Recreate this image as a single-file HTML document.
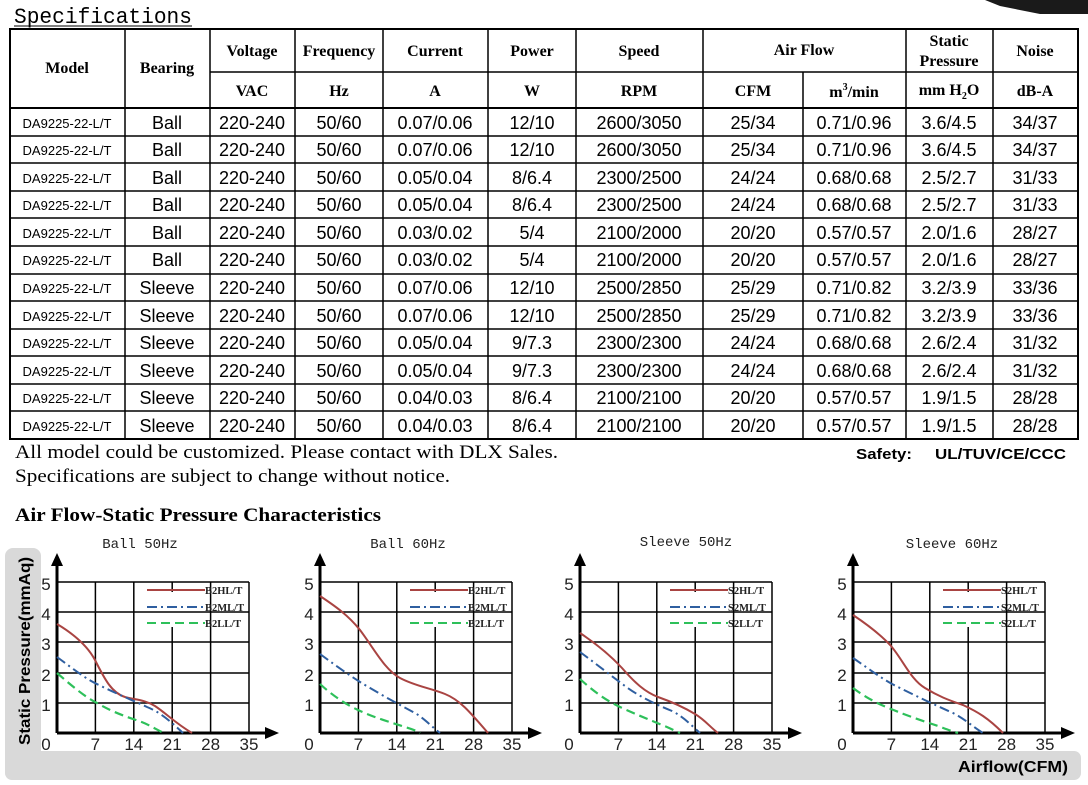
<!DOCTYPE html>
<html><head><meta charset="utf-8"><style>
html,body{margin:0;padding:0;background:#fff;width:1088px;height:785px;overflow:hidden}
svg{display:block}
.h{font-family:"Liberation Serif",serif;font-weight:bold;font-size:16px;text-anchor:middle;fill:#000}
.d{font-family:"Liberation Sans",sans-serif;font-size:18px;text-anchor:middle;fill:#000}
.m{font-family:"Liberation Sans",sans-serif;font-size:13px;text-anchor:middle;fill:#000}
.t{font-family:"Liberation Sans",sans-serif;font-size:17px;fill:#222}
.lg{font-family:"Liberation Serif",serif;font-weight:bold;font-size:10.5px;fill:#222}
.ct{font-family:"Liberation Mono",monospace;font-size:14px;fill:#222;text-anchor:middle}
</style></head><body>
<svg width="1088" height="785" viewBox="0 0 1088 785" xmlns="http://www.w3.org/2000/svg">
<!-- fan corner -->
<path d="M985 0 L1088 0 L1088 14 L1040 14 L1000 6 Z" fill="#1a1a1a"/>
<text x="14" y="23" font-family="Liberation Mono,monospace" font-size="22" textLength="178" lengthAdjust="spacingAndGlyphs">Specifications</text>
<line x1="14" y1="26" x2="192" y2="26" stroke="#000" stroke-width="1"/>
<!-- table -->
<g stroke="#000" stroke-width="1.5" fill="none">
<rect x="10" y="29" width="1068" height="410" stroke-width="2"/>
<line x1="210" y1="72" x2="1078" y2="72"/>
<line x1="703" y1="29" x2="703" y2="439"/>
<line x1="10" y1="108" x2="1078" y2="108" stroke-width="2"/>
<line x1="125" y1="29" x2="125" y2="439"/><line x1="210" y1="29" x2="210" y2="439"/><line x1="295" y1="29" x2="295" y2="439"/><line x1="383" y1="29" x2="383" y2="439"/><line x1="488" y1="29" x2="488" y2="439"/><line x1="576" y1="29" x2="576" y2="439"/><line x1="803" y1="72" x2="803" y2="439"/><line x1="906" y1="29" x2="906" y2="439"/><line x1="993" y1="29" x2="993" y2="439"/>
<line x1="10" y1="136" x2="1078" y2="136"/><line x1="10" y1="163" x2="1078" y2="163"/><line x1="10" y1="191" x2="1078" y2="191"/><line x1="10" y1="218" x2="1078" y2="218"/><line x1="10" y1="246" x2="1078" y2="246"/><line x1="10" y1="274" x2="1078" y2="274"/><line x1="10" y1="301" x2="1078" y2="301"/><line x1="10" y1="329" x2="1078" y2="329"/><line x1="10" y1="356" x2="1078" y2="356"/><line x1="10" y1="384" x2="1078" y2="384"/><line x1="10" y1="411" x2="1078" y2="411"/>
</g>
<text class="h" x="67" y="73">Model</text><text class="h" x="167" y="73">Bearing</text>
<text class="h" x="252" y="56">Voltage</text><text class="h" x="339" y="56">Frequency</text><text class="h" x="435" y="56">Current</text><text class="h" x="532" y="56">Power</text><text class="h" x="639" y="56">Speed</text><text class="h" x="804" y="55">Air Flow</text><text class="h" x="949" y="46">Static</text><text class="h" x="949" y="66">Pressure</text><text class="h" x="1035" y="56">Noise</text>
<text class="h" x="252" y="96">VAC</text><text class="h" x="339" y="96">Hz</text><text class="h" x="435" y="96">A</text><text class="h" x="532" y="96">W</text><text class="h" x="639" y="96">RPM</text><text class="h" x="753" y="96">CFM</text><text class="h" x="854" y="97">m<tspan font-size="10" dy="-7">3</tspan><tspan dy="7">/min</tspan></text><text class="h" x="949" y="95">mm H<tspan font-size="10" dy="4">2</tspan><tspan dy="-4">O</tspan></text><text class="h" x="1035" y="96">dB-A</text>
<!-- rows -->
<g class="m"><text x="67" y="128">DA9225-22-L/T</text><text x="67" y="155">DA9225-22-L/T</text><text x="67" y="183">DA9225-22-L/T</text><text x="67" y="210">DA9225-22-L/T</text><text x="67" y="238">DA9225-22-L/T</text><text x="67" y="265">DA9225-22-L/T</text><text x="67" y="293">DA9225-22-L/T</text><text x="67" y="321">DA9225-22-L/T</text><text x="67" y="348">DA9225-22-L/T</text><text x="67" y="376">DA9225-22-L/T</text><text x="67" y="403">DA9225-22-L/T</text><text x="67" y="431">DA9225-22-L/T</text></g>
<g class="d">
<text x="167" y="129">Ball</text><text x="252" y="129">220-240</text><text x="339" y="129">50/60</text><text x="435" y="129">0.07/0.06</text><text x="532" y="129">12/10</text><text x="639" y="129">2600/3050</text><text x="753" y="129">25/34</text><text x="854" y="129">0.71/0.96</text><text x="949" y="129">3.6/4.5</text><text x="1035" y="129">34/37</text>
<text x="167" y="156">Ball</text><text x="252" y="156">220-240</text><text x="339" y="156">50/60</text><text x="435" y="156">0.07/0.06</text><text x="532" y="156">12/10</text><text x="639" y="156">2600/3050</text><text x="753" y="156">25/34</text><text x="854" y="156">0.71/0.96</text><text x="949" y="156">3.6/4.5</text><text x="1035" y="156">34/37</text>
<text x="167" y="184">Ball</text><text x="252" y="184">220-240</text><text x="339" y="184">50/60</text><text x="435" y="184">0.05/0.04</text><text x="532" y="184">8/6.4</text><text x="639" y="184">2300/2500</text><text x="753" y="184">24/24</text><text x="854" y="184">0.68/0.68</text><text x="949" y="184">2.5/2.7</text><text x="1035" y="184">31/33</text>
<text x="167" y="211">Ball</text><text x="252" y="211">220-240</text><text x="339" y="211">50/60</text><text x="435" y="211">0.05/0.04</text><text x="532" y="211">8/6.4</text><text x="639" y="211">2300/2500</text><text x="753" y="211">24/24</text><text x="854" y="211">0.68/0.68</text><text x="949" y="211">2.5/2.7</text><text x="1035" y="211">31/33</text>
<text x="167" y="239">Ball</text><text x="252" y="239">220-240</text><text x="339" y="239">50/60</text><text x="435" y="239">0.03/0.02</text><text x="532" y="239">5/4</text><text x="639" y="239">2100/2000</text><text x="753" y="239">20/20</text><text x="854" y="239">0.57/0.57</text><text x="949" y="239">2.0/1.6</text><text x="1035" y="239">28/27</text>
<text x="167" y="266">Ball</text><text x="252" y="266">220-240</text><text x="339" y="266">50/60</text><text x="435" y="266">0.03/0.02</text><text x="532" y="266">5/4</text><text x="639" y="266">2100/2000</text><text x="753" y="266">20/20</text><text x="854" y="266">0.57/0.57</text><text x="949" y="266">2.0/1.6</text><text x="1035" y="266">28/27</text>
<text x="167" y="294">Sleeve</text><text x="252" y="294">220-240</text><text x="339" y="294">50/60</text><text x="435" y="294">0.07/0.06</text><text x="532" y="294">12/10</text><text x="639" y="294">2500/2850</text><text x="753" y="294">25/29</text><text x="854" y="294">0.71/0.82</text><text x="949" y="294">3.2/3.9</text><text x="1035" y="294">33/36</text>
<text x="167" y="322">Sleeve</text><text x="252" y="322">220-240</text><text x="339" y="322">50/60</text><text x="435" y="322">0.07/0.06</text><text x="532" y="322">12/10</text><text x="639" y="322">2500/2850</text><text x="753" y="322">25/29</text><text x="854" y="322">0.71/0.82</text><text x="949" y="322">3.2/3.9</text><text x="1035" y="322">33/36</text>
<text x="167" y="349">Sleeve</text><text x="252" y="349">220-240</text><text x="339" y="349">50/60</text><text x="435" y="349">0.05/0.04</text><text x="532" y="349">9/7.3</text><text x="639" y="349">2300/2300</text><text x="753" y="349">24/24</text><text x="854" y="349">0.68/0.68</text><text x="949" y="349">2.6/2.4</text><text x="1035" y="349">31/32</text>
<text x="167" y="377">Sleeve</text><text x="252" y="377">220-240</text><text x="339" y="377">50/60</text><text x="435" y="377">0.05/0.04</text><text x="532" y="377">9/7.3</text><text x="639" y="377">2300/2300</text><text x="753" y="377">24/24</text><text x="854" y="377">0.68/0.68</text><text x="949" y="377">2.6/2.4</text><text x="1035" y="377">31/32</text>
<text x="167" y="404">Sleeve</text><text x="252" y="404">220-240</text><text x="339" y="404">50/60</text><text x="435" y="404">0.04/0.03</text><text x="532" y="404">8/6.4</text><text x="639" y="404">2100/2100</text><text x="753" y="404">20/20</text><text x="854" y="404">0.57/0.57</text><text x="949" y="404">1.9/1.5</text><text x="1035" y="404">28/28</text>
<text x="167" y="432">Sleeve</text><text x="252" y="432">220-240</text><text x="339" y="432">50/60</text><text x="435" y="432">0.04/0.03</text><text x="532" y="432">8/6.4</text><text x="639" y="432">2100/2100</text><text x="753" y="432">20/20</text><text x="854" y="432">0.57/0.57</text><text x="949" y="432">1.9/1.5</text><text x="1035" y="432">28/28</text>
</g>
<text x="15" y="458" font-family="Liberation Serif,serif" font-size="19" textLength="543" lengthAdjust="spacingAndGlyphs">All model could be customized. Please contact with DLX Sales.</text>
<text x="15" y="482" font-family="Liberation Serif,serif" font-size="19" textLength="435" lengthAdjust="spacingAndGlyphs">Specifications are subject to change without notice.</text>
<text x="856" y="459" font-family="Liberation Sans,sans-serif" font-weight="bold" font-size="15" textLength="56" lengthAdjust="spacingAndGlyphs">Safety:</text>
<text x="935" y="459" font-family="Liberation Sans,sans-serif" font-weight="bold" font-size="15" textLength="131" lengthAdjust="spacingAndGlyphs">UL/TUV/CE/CCC</text>
<text x="15" y="521" font-family="Liberation Serif,serif" font-weight="bold" font-size="19" textLength="366" lengthAdjust="spacingAndGlyphs">Air Flow-Static Pressure Characteristics</text>
<!-- gray frame -->
<rect x="5" y="548" width="36" height="232" rx="8" fill="#d9d9d9"/>
<rect x="5" y="751" width="1076" height="29" rx="7" fill="#d9d9d9"/>
<text transform="translate(30,745) rotate(-90)" font-family="Liberation Sans,sans-serif" font-weight="bold" font-size="16" textLength="188" lengthAdjust="spacingAndGlyphs">Static Pressure(mmAq)</text>
<text x="958" y="772" font-family="Liberation Sans,sans-serif" font-weight="bold" font-size="16" textLength="110" lengthAdjust="spacingAndGlyphs">Airflow(CFM)</text>

<defs>
<g id="grid">
<g stroke="#000" stroke-width="1.5">
<line x1="0" y1="582" x2="192" y2="582"/><line x1="0" y1="612" x2="192" y2="612"/><line x1="0" y1="642" x2="192" y2="642"/><line x1="0" y1="673" x2="192" y2="673"/><line x1="0" y1="703" x2="192" y2="703"/>
<line x1="38.4" y1="582" x2="38.4" y2="733"/><line x1="76.8" y1="582" x2="76.8" y2="733"/><line x1="115.2" y1="627" x2="115.2" y2="733"/><line x1="153.6" y1="582" x2="153.6" y2="733"/><line x1="192" y1="582" x2="192" y2="733"/>
<line x1="115.2" y1="582" x2="115.2" y2="592"/>
</g>
<g stroke="#000" stroke-width="3"><line x1="0" y1="733" x2="0" y2="562"/><line x1="0" y1="733" x2="212" y2="733"/></g>
<path d="M0 553 L-6 566 L6 566Z M222 733 L208 727 L208 739Z" fill="#000"/>
<g class="t" text-anchor="middle"><text x="-11" y="590">5</text><text x="-11" y="620">4</text><text x="-11" y="650">3</text><text x="-11" y="681">2</text><text x="-11" y="711">1</text><text x="-11" y="750">0</text>
<text x="38.4" y="750">7</text><text x="76.8" y="750">14</text><text x="115.2" y="750">21</text><text x="153.6" y="750">28</text><text x="192" y="750">35</text></g>
<g stroke-width="2" fill="none"><line x1="90" y1="590" x2="148" y2="590" stroke="#a94442"/><line x1="90" y1="607" x2="148" y2="607" stroke="#2f5fa0" stroke-dasharray="10,4,2,4"/><line x1="90" y1="623" x2="148" y2="623" stroke="#2ec05a" stroke-dasharray="9,5"/></g>
</g>
</defs>

<!-- chart 1 -->
<text class="ct" x="140" y="548">Ball 50Hz</text>
<g transform="translate(57,0)"><use href="#grid"/>
<text class="lg" x="148" y="594">B2HL/T</text><text class="lg" x="148" y="611">B2ML/T</text><text class="lg" x="148" y="627">B2LL/T</text>
<path d="M0 624 C15 633 30 645 38 660 C48 680 55 693 68 697 C80 700 88 700 98 706 C110 714 118 723 135 733" stroke="#a94442" stroke-width="2" fill="none"/>
<path d="M0 657 C15 668 30 680 42 685 C60 694 75 700 90 707 C105 713 115 723 126 733" stroke="#2f5fa0" stroke-width="2" fill="none" stroke-dasharray="10,4,2,4"/>
<path d="M0 673 C15 686 28 697 40 703 C55 712 70 717 82 721 C93 725 100 730 107 733" stroke="#2ec05a" stroke-width="2.2" fill="none" stroke-dasharray="9,5"/>
</g>
<!-- chart 2 -->
<text class="ct" x="408" y="548">Ball 60Hz</text>
<g transform="translate(320,0)"><use href="#grid"/>
<text class="lg" x="148" y="594">B2HL/T</text><text class="lg" x="148" y="611">B2ML/T</text><text class="lg" x="148" y="627">B2LL/T</text>
<path d="M0 596 C15 606 28 615 40 630 C55 650 65 670 80 678 C95 686 110 688 125 694 C140 700 150 712 168 733" stroke="#a94442" stroke-width="2" fill="none"/>
<path d="M0 654 C15 665 30 676 45 685 C65 697 80 705 95 713 C105 719 112 727 120 733" stroke="#2f5fa0" stroke-width="2" fill="none" stroke-dasharray="10,4,2,4"/>
<path d="M0 684 C12 695 25 704 38 710 C55 718 70 722 85 727 C92 729 97 731 100 733" stroke="#2ec05a" stroke-width="2.2" fill="none" stroke-dasharray="9,5"/>
</g>
<!-- chart 3 -->
<text class="ct" x="686" y="546">Sleeve 50Hz</text>
<g transform="translate(580,0)"><use href="#grid"/>
<text class="lg" x="148" y="594">S2HL/T</text><text class="lg" x="148" y="611">S2ML/T</text><text class="lg" x="148" y="627">S2LL/T</text>
<path d="M0 633 C15 643 30 655 42 668 C55 683 65 692 78 697 C95 703 105 708 115 714 C125 720 130 727 138 733" stroke="#a94442" stroke-width="2" fill="none"/>
<path d="M0 652 C15 663 30 675 45 686 C60 697 75 704 92 711 C104 717 112 726 120 733" stroke="#2f5fa0" stroke-width="2" fill="none" stroke-dasharray="10,4,2,4"/>
<path d="M0 679 C12 690 25 700 40 707 C55 714 70 720 82 725 C90 728 95 731 100 733" stroke="#2ec05a" stroke-width="2.2" fill="none" stroke-dasharray="9,5"/>
</g>
<!-- chart 4 -->
<text class="ct" x="952" y="548">Sleeve 60Hz</text>
<g transform="translate(853,0)"><use href="#grid"/>
<text class="lg" x="148" y="594">S2HL/T</text><text class="lg" x="148" y="611">S2ML/T</text><text class="lg" x="148" y="627">S2LL/T</text>
<path d="M0 615 C15 625 28 635 38 646 C50 660 58 680 72 688 C85 696 95 700 110 705 C125 712 135 718 150 733" stroke="#a94442" stroke-width="2" fill="none"/>
<path d="M0 658 C15 668 30 680 45 687 C65 697 80 704 100 713 C112 719 120 727 130 733" stroke="#2f5fa0" stroke-width="2" fill="none" stroke-dasharray="10,4,2,4"/>
<path d="M0 688 C12 697 25 704 38 709 C55 716 70 721 85 726 C93 729 98 731 105 733" stroke="#2ec05a" stroke-width="2.2" fill="none" stroke-dasharray="9,5"/>
</g>
</svg>
</body></html>
